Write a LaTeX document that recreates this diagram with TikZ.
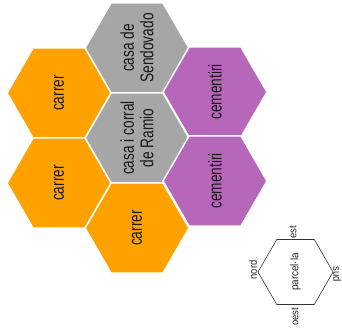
\documentclass[tikz,border=0pt]{standalone}
\usepackage{fontspec}
\setmainfont{Liberation Sans}
\newfontfamily\hexfont[FakeStretch=0.74]{Liberation Sans}
\newfontfamily\keyfont[FakeStretch=0.9]{Liberation Sans}
\usetikzlibrary{shapes.geometric}
\definecolor{carrercol}{HTML}{FFA200}
\definecolor{casacol}{HTML}{A6A6A6}
\definecolor{cementcol}{HTML}{B767BA}
\tikzset{
  cell/.style={regular polygon, regular polygon sides=6, minimum size=104pt,
    inner sep=0pt, draw=white, line width=1.5pt},
  celltext/.style={rotate=90, align=center, text=black!90,
    font=\hexfont\fontsize{18.5}{19.5}\selectfont},
  keytext/.style={rotate=90, text=black!85,
    font=\keyfont\fontsize{10.5}{11}\selectfont},
}
\begin{document}
\begin{tikzpicture}[x=1pt, y=-1pt]
  \useasboundingbox (0,0) rectangle (342,330);
  % middle column
  \node[cell, fill=casacol] (sendovado) at (137,48) {};
  \node[cell, fill=casacol] (ramio) at (137,138) {};
  \node[cell, fill=carrercol] (carrerc) at (137,228) {};
  % left column
  \node[cell, fill=carrercol] (carrera) at (59,93) {};
  \node[cell, fill=carrercol] (carrerb) at (59,183) {};
  % right column
  \node[cell, fill=cementcol] (cementa) at (215,92) {};
  \node[cell, fill=cementcol] (cementb) at (215,181) {};
  % texts
  \node[celltext] (sendovadotext) at (sendovado) {casa de\\Sendovado};
  \node[celltext] (ramiotext) at (ramio) {casa i corral\\de Ramio};
  \node[celltext] (carrerctext) at (carrerc) {carrer};
  \node[celltext] (carreratext) at (carrera) {carrer};
  \node[celltext] (carrerbtext) at (carrerb) {carrer};
  \node[celltext] (cementatext) at (cementa) {cementiri};
  \node[celltext] (cementbtext) at (cementb) {cementiri};
  % key
  \node[regular polygon, regular polygon sides=6, minimum size=75pt,
    draw=black!80, line width=0.6pt] (parcela) at (295.5,272) {};
  \node[keytext, font=\keyfont\fontsize{11}{12}\selectfont] (parcelatext) at (parcela) {parcel·la};
  \node[keytext] (est) at (293,232) {est};
  \node[keytext] (oest) at (295,317) {oest};
  \node[keytext] (nord) at (253,270) {nord};
  \node[keytext, rotate=180] (sud) at (337,274) {sud};
\end{tikzpicture}
\end{document}
